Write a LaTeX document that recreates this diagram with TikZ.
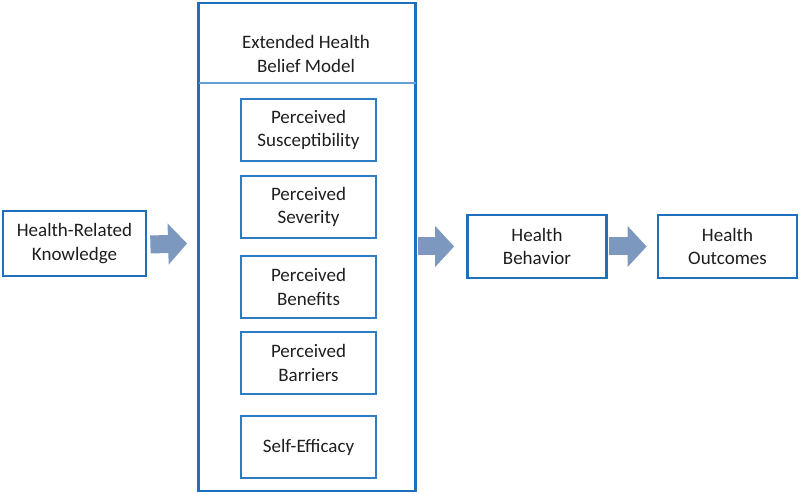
\documentclass[tikz,border=0pt]{standalone}
\usepackage{fontspec}
\setmainfont{Carlito}
\usetikzlibrary{arrows.meta}
\definecolor{boxblue}{RGB}{30,112,190}
\definecolor{innerblue}{RGB}{46,125,196}
\definecolor{divblue}{RGB}{100,160,215}
\definecolor{arrowgrey}{RGB}{125,152,190}
\definecolor{txt}{RGB}{30,30,30}
\tikzset{
  x=1pt,y=1pt,
  every node/.style={font=\fontsize{19}{23.5}\selectfont, text=txt, align=center, inner sep=0pt},
  outerbox/.style={draw=boxblue, line width=2.8pt, minimum width=#1, minimum height=64pt},
  innerbox/.style={draw=innerblue, line width=1.6pt, minimum width=135pt, minimum height=62pt},
  fatarrow/.style={draw=arrowgrey, line width=18pt, -{Triangle[length=19pt, width=40pt]}},
}
\begin{document}
\begin{tikzpicture}
\useasboundingbox (0,0) rectangle (800,494);
% big container
\node[draw=boxblue, line width=2.8pt, minimum width=217pt, minimum height=488pt] (big) at (307,247) {};
\node (title) at (306,440) {Extended Health\\Belief Model};
\coordinate (divL) at (198.5,411);
\coordinate (divR) at (415.5,411);
\draw[divblue, line width=1.2pt] (divL) -- (divR);
% inner boxes
\node[innerbox] (sus) at (308.5,364) {Perceived\\Susceptibility};
\node[innerbox] (sev) at (308.5,287) {Perceived\\Severity};
\node[innerbox] (ben) at (308.5,207) {Perceived\\Benefits};
\node[innerbox] (bar) at (308.5,131) {Perceived\\Barriers};
\node[innerbox] (eff) at (308.5,47) {Self-Efficacy};
% outer nodes
\node[outerbox=143pt, minimum height=65pt] (hrk) at (74.5,250.5) {Health-Related\\Knowledge};
\node[outerbox=139pt, minimum height=63pt] (hb) at (537,247.5) {Health\\Behavior};
\node[outerbox=139pt, minimum height=63pt] (ho) at (727.5,247.5) {Health\\Outcomes};
% arrows
\draw[fatarrow] ([xshift=3pt,yshift=-1pt]hrk.east) -- ([xshift=-10pt]hrk.east -| big.west);
\draw[fatarrow] ([xshift=1.5pt]hb.west -| big.east) -- ([xshift=-12pt]hb.west);
\draw[fatarrow] ([xshift=1.5pt]hb.east) -- ([xshift=-10pt]ho.west);
\end{tikzpicture}
\end{document}
